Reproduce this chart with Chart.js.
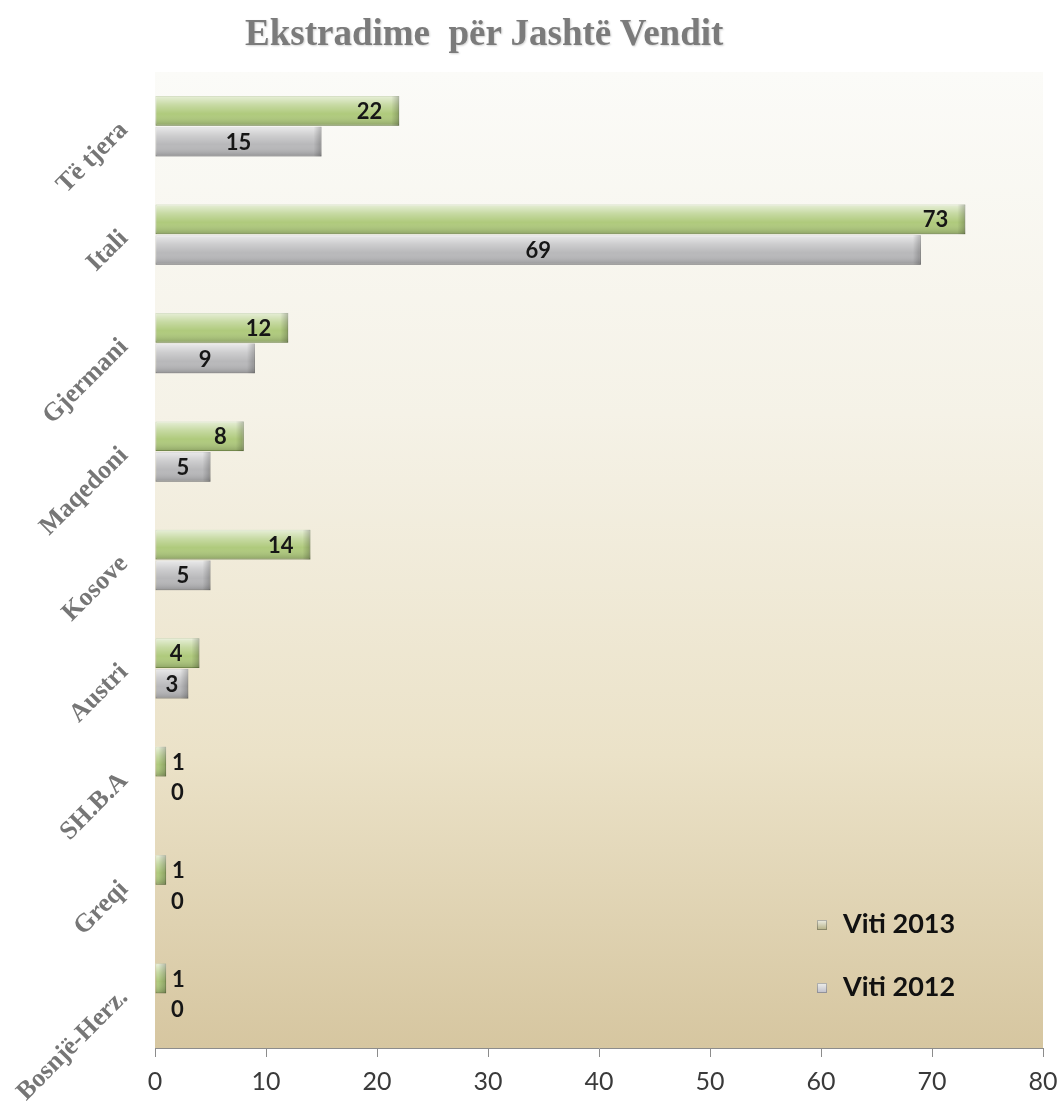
<!DOCTYPE html>
<html>
<head>
<meta charset="utf-8">
<script src="https://cdn.jsdelivr.net/npm/chart.js@4.4.1/dist/chart.umd.min.js"></script>
<style>
body{margin:0;background:#fff;}
#wrap{position:relative;width:1060px;height:1110px;}
#title{position:absolute;left:245px;top:11px;font:bold 37px "Liberation Serif",serif;color:#7b7b7b;white-space:pre;text-shadow:1px 1px 2px rgba(0,0,0,0.18);}
</style>
</head>
<body>
<div id="wrap">
  <canvas id="chart" width="1060" height="1110"></canvas>
  <div id="title">Ekstradime  për Jashtë Vendit</div>
</div>
<script>
// --- data ---
const countries = ["Të tjera","Itali","Gjermani","Maqedoni","Kosove","Austri","SH.B.A","Greqi","Bosnjë-Herz."];
const viti2013 = [22,73,12,8,14,4,1,1,1];
const viti2012 = [15,69,9,5,5,3,0,0,0];
const seriesNames = ["Viti 2013","Viti 2012"];
const seriesColors = ["#afca7c","#b8b8ba"];
const seriesBorders = ["#8ba65a","#969698"];
const markerColors = ["#b9b58c","#c3c3cc"];
const xMin = 0, xMax = 80, xStep = 10;

// plot area background (white at top, tan at the bottom)
const plotBg = {
    id:'plotBg',
    beforeDatasetsDraw(chart){
        const {ctx, chartArea:ca} = chart;
        const g = ctx.createLinearGradient(0, ca.top, 0, ca.bottom);
        g.addColorStop(0, '#fbfbf8');
        g.addColorStop(0.35, '#f5f2e7');
        g.addColorStop(0.7, '#ebe2c8');
        g.addColorStop(1, '#d6c6a0');
        ctx.save();
        ctx.fillStyle = g;
        ctx.fillRect(ca.left, ca.top, ca.right-ca.left, ca.bottom-ca.top);
        ctx.restore();
    }
};

// glossy look on the bars + value labels
const barGloss = {
    id:'barGloss',
    afterDatasetsDraw(chart){
        const ctx = chart.ctx;
        ctx.save();
        chart.data.datasets.forEach((ds, di)=>{
            const meta = chart.getDatasetMeta(di);
            meta.data.forEach((bar, i)=>{
                const p = bar.getProps(['x','y','base','height'], true);
                const left = Math.min(p.x, p.base), right = Math.max(p.x, p.base);
                const top = p.y - p.height/2, h = p.height;
                const w = right - left;
                if(w > 0.5){
                    const g = ctx.createLinearGradient(0, top, 0, top+h);
                    g.addColorStop(0, 'rgba(255,255,255,0.7)');
                    g.addColorStop(0.3, 'rgba(255,255,255,0.3)');
                    g.addColorStop(0.6, 'rgba(255,255,255,0)');
                    g.addColorStop(1, 'rgba(0,0,0,0.2)');
                    ctx.fillStyle = g;
                    ctx.fillRect(left, top, w, h);
                    const cw = Math.min(8, w);
                    const gc = ctx.createLinearGradient(right-cw, 0, right, 0);
                    gc.addColorStop(0, 'rgba(0,0,0,0)');
                    gc.addColorStop(1, 'rgba(0,0,0,0.22)');
                    ctx.fillStyle = gc;
                    ctx.fillRect(right-cw, top, cw, h);
                }
                // value label
                const v = ds.data[i];
                ctx.font = 'bold 22px Lato, "Open Sans", sans-serif';
                ctx.fillStyle = '#161616';
                ctx.textBaseline = 'middle';
                let tx;
                if(di === 0){
                    if(w >= 32){ ctx.textAlign = 'right'; tx = right - 17; }
                    else { ctx.textAlign = 'left'; tx = Math.max(right + 6, p.base + 16); }
                } else {
                    if(w >= 30){ ctx.textAlign = 'center'; tx = left + w/2; }
                    else { ctx.textAlign = 'left'; tx = Math.max(right + 6, p.base + 16); }
                }
                ctx.fillText(String(v), tx, p.y + 1);
            });
        });
        ctx.restore();
    }
};

// legend inside the plot, bottom right
const cornerLegend = {
    id:'cornerLegend',
    afterDraw(chart){
        const {ctx, chartArea:ca} = chart;
        ctx.save();
        chart.data.datasets.forEach((ds, di)=>{
            const y = ca.bottom - 124 + di*63;
            const mx = ca.right - 226;
            const g = ctx.createLinearGradient(0, y-5, 0, y+5);
            g.addColorStop(0, '#f4f4ee');
            g.addColorStop(1, markerColors[di]);
            ctx.fillStyle = g;
            ctx.fillRect(mx, y-4, 10, 10);
            ctx.strokeStyle = 'rgba(0,0,0,0.25)';
            ctx.lineWidth = 1;
            ctx.strokeRect(mx+0.5, y-3.5, 9, 9);
            ctx.font = 'bold 27px Lato, "Open Sans", sans-serif';
            ctx.fillStyle = '#111';
            ctx.textAlign = 'left';
            ctx.textBaseline = 'middle';
            ctx.fillText(ds.label, ca.right - 200, y);
        });
        ctx.restore();
    }
};

new Chart(document.getElementById('chart').getContext('2d'), {
    type:'bar',
    data:{
        labels:countries,
        datasets:[
            {label:seriesNames[0], data:viti2013, backgroundColor:seriesColors[0], borderColor:seriesBorders[0], borderWidth:1, borderSkipped:false},
            {label:seriesNames[1], data:viti2012, backgroundColor:seriesColors[1], borderColor:seriesBorders[1], borderWidth:1, borderSkipped:false}
        ]
    },
    options:{
        indexAxis:'y',
        responsive:false,
        animation:false,
        devicePixelRatio:1,
        layout:{padding:{top:72, right:17, left:0, bottom:0}},
        datasets:{bar:{categoryPercentage:0.565, barPercentage:0.97}},
        plugins:{legend:{display:false}, title:{display:false}, tooltip:{enabled:false}},
        scales:{
            x:{
                min:xMin, max:xMax,
                afterFit(s){ s.height = 62; s.paddingRight = 0; s.paddingLeft = 0; },
                border:{display:true, color:'#8c8c8c', width:1},
                grid:{drawOnChartArea:false, drawTicks:true, tickLength:9, color:'#8c8c8c'},
                ticks:{stepSize:xStep, padding:10, color:'#3a3a3a', font:{family:'Lato, "Open Sans", sans-serif', size:25}}
            },
            y:{
                afterFit(s){ s.width = 155; s.paddingTop = 0; s.paddingBottom = 0; },
                border:{display:true, color:'#8c8c8c', width:1},
                grid:{drawOnChartArea:false, drawTicks:false},
                ticks:{minRotation:45, maxRotation:45, padding:31, color:'#767676',
                       font:{family:'"Liberation Serif", serif', size:26, weight:'bold'}}
            }
        }
    },
    plugins:[plotBg, barGloss, cornerLegend]
});
</script>
</body>
</html>
